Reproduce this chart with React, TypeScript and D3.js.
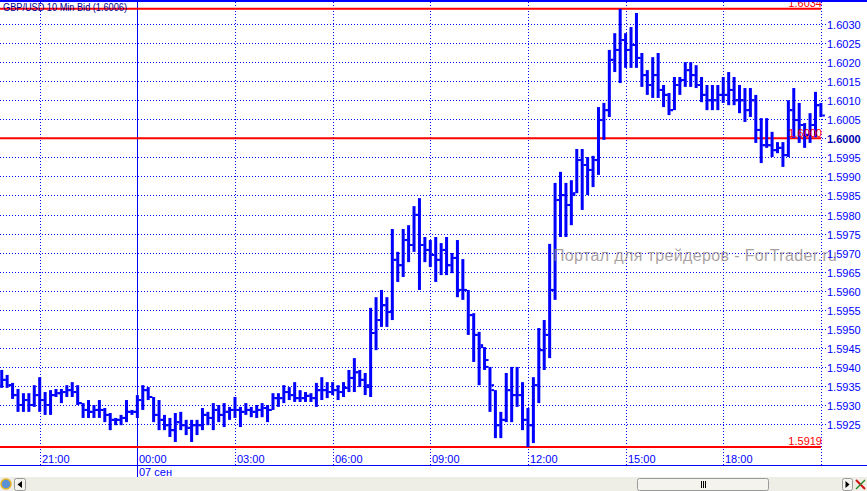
import React from "react";
import * as d3 from "d3";

// ---- data (GBP/USD 10 Min Bid), first bar at 19:50 on 06 Sep ----
const startTime = new Date(2009, 8, 6, 19, 50);
const barMinutes = 10;

const highs = [
  1.59392, 1.59379, 1.59358, 1.59342, 1.59331, 1.59331, 1.59352, 1.59373, 1.59334, 1.59339,
  1.59342, 1.59342, 1.59352, 1.5936, 1.59352, 1.59305, 1.59313, 1.593, 1.59313, 1.59292,
  1.59279, 1.59266, 1.59274, 1.59313, 1.59287, 1.59326, 1.59352, 1.59347, 1.59321, 1.59313,
  1.59274, 1.59266, 1.59279, 1.59282, 1.59261, 1.59261, 1.59261, 1.59292, 1.59282, 1.59305,
  1.593, 1.59305, 1.59295, 1.59321, 1.59295, 1.59305, 1.59295, 1.593, 1.59305, 1.593,
  1.59331, 1.59331, 1.59352, 1.59347, 1.5936, 1.59339, 1.59334, 1.59331, 1.59358, 1.59373,
  1.5936, 1.5936, 1.59352, 1.5936, 1.59392, 1.59423, 1.59392, 1.59384, 1.59555, 1.59583,
  1.59602, 1.59583, 1.59762, 1.59702, 1.59762, 1.59772, 1.59822, 1.59843, 1.59741, 1.59733,
  1.59741, 1.59725, 1.59741, 1.59699, 1.59733, 1.59683, 1.59602, 1.59541, 1.59492, 1.59452,
  1.594, 1.59339, 1.59282, 1.59384, 1.594, 1.594, 1.5936, 1.59292, 1.59373, 1.59502,
  1.59523, 1.59723, 1.59883, 1.59912, 1.59883, 1.5989, 1.59972, 1.59972, 1.59951, 1.59954,
  1.60082, 1.60093, 1.60232, 1.60276, 1.6034, 1.60276, 1.60292, 1.60329, 1.60224, 1.60179,
  1.60213, 1.60224, 1.6014, 1.60119, 1.60161, 1.60161, 1.602, 1.602, 1.60192, 1.60161,
  1.6014, 1.6014, 1.6014, 1.60161, 1.60174, 1.60161, 1.6014, 1.60132, 1.60132, 1.60114,
  1.60053, 1.60053, 1.60017, 1.5999, 1.5999, 1.601, 1.60132, 1.60093, 1.6004, 1.60066,
  1.60122, 1.60093,
];

const lows = [
  1.59345, 1.59345, 1.59316, 1.59282, 1.59282, 1.59282, 1.59295, 1.59282, 1.59274, 1.59274,
  1.59321, 1.59305, 1.59321, 1.59321, 1.593, 1.59266, 1.59266, 1.59266, 1.59266, 1.59255,
  1.59234, 1.59247, 1.59247, 1.59255, 1.59274, 1.59266, 1.59287, 1.59313, 1.59255, 1.59234,
  1.59234, 1.59216, 1.59203, 1.59234, 1.59221, 1.59203, 1.59221, 1.59234, 1.59247, 1.59234,
  1.59255, 1.59242, 1.59261, 1.59266, 1.59242, 1.59274, 1.59268, 1.59266, 1.59268, 1.59255,
  1.59287, 1.59295, 1.59305, 1.59313, 1.59308, 1.59308, 1.59308, 1.59308, 1.59295, 1.59313,
  1.59318, 1.59326, 1.59313, 1.59321, 1.59334, 1.59334, 1.59347, 1.59326, 1.59321, 1.59444,
  1.59505, 1.59505, 1.59523, 1.59623, 1.59636, 1.59675, 1.59702, 1.59602, 1.59675, 1.59662,
  1.59623, 1.59641, 1.59641, 1.59646, 1.59583, 1.59576, 1.59484, 1.59413, 1.59352, 1.59392,
  1.59282, 1.59213, 1.59213, 1.59255, 1.59255, 1.59295, 1.59234, 1.5919, 1.592, 1.59305,
  1.59392, 1.59423, 1.59576, 1.59741, 1.59741, 1.59772, 1.59856, 1.59812, 1.59851, 1.59872,
  1.59904, 1.59996, 1.60056, 1.60174, 1.60145, 1.60185, 1.60185, 1.60185, 1.60135, 1.60114,
  1.60106, 1.60106, 1.60082, 1.60061, 1.60074, 1.60114, 1.60135, 1.60135, 1.60132, 1.60095,
  1.60074, 1.60074, 1.60074, 1.60093, 1.60087, 1.60087, 1.60066, 1.60043, 1.60056, 1.59988,
  1.59935, 1.59975, 1.59951, 1.59961, 1.59925, 1.59951, 1.60001, 1.59988, 1.59975, 1.59988,
  1.60003, 1.60056,
];

const opens = [
  1.59352, 1.59366, 1.59352, 1.59326, 1.593, 1.59313, 1.593, 1.59326, 1.59313, 1.593,
  1.59326, 1.59331, 1.59334, 1.59339, 1.59334, 1.59305, 1.59287, 1.59282, 1.59287, 1.59287,
  1.59274, 1.59261, 1.59261, 1.59266, 1.59282, 1.59282, 1.59313, 1.59339, 1.59321, 1.59274,
  1.59261, 1.59247, 1.59234, 1.59255, 1.59247, 1.5924, 1.59247, 1.59247, 1.59274, 1.59266,
  1.59287, 1.59274, 1.59282, 1.59287, 1.59287, 1.59282, 1.59287, 1.59282, 1.59287, 1.59292,
  1.59287, 1.59318, 1.59318, 1.59334, 1.59326, 1.59318, 1.59318, 1.59324, 1.59318, 1.59339,
  1.59339, 1.59334, 1.59339, 1.59334, 1.59345, 1.59371, 1.59386, 1.59366, 1.59347, 1.59489,
  1.59523, 1.59562, 1.59544, 1.59681, 1.59667, 1.59733, 1.5972, 1.59799, 1.5972, 1.59707,
  1.59694, 1.59681, 1.59707, 1.59667, 1.59686, 1.59602, 1.59602, 1.59536, 1.59484, 1.59452,
  1.594, 1.59339, 1.59247, 1.59261, 1.59339, 1.59326, 1.59326, 1.59261, 1.59247, 1.59352,
  1.59444, 1.59484, 1.59602, 1.59838, 1.59851, 1.59825, 1.59856, 1.59943, 1.5993, 1.59917,
  1.59943, 1.60048, 1.60074, 1.60206, 1.60232, 1.60258, 1.60232, 1.60245, 1.60211, 1.60166,
  1.6014, 1.60166, 1.60127, 1.60114, 1.60074, 1.6014, 1.60153, 1.60179, 1.60166, 1.6014,
  1.60114, 1.601, 1.601, 1.60114, 1.60114, 1.60127, 1.601, 1.601, 1.60074, 1.601,
  1.60022, 1.59982, 1.59982, 1.59969, 1.59975, 1.59956, 1.60074, 1.60048, 1.60035, 1.60009,
  1.60035, 1.60087,
];

const closes = [
  1.59366, 1.59352, 1.59326, 1.593, 1.59313, 1.593, 1.59326, 1.59313, 1.593, 1.59326,
  1.59331, 1.59334, 1.59339, 1.59334, 1.59305, 1.59287, 1.59282, 1.59287, 1.59287, 1.59274,
  1.59261, 1.59261, 1.59266, 1.59282, 1.59282, 1.59313, 1.59339, 1.59321, 1.59274, 1.59261,
  1.59247, 1.59234, 1.59255, 1.59247, 1.5924, 1.59247, 1.59247, 1.59274, 1.59266, 1.59287,
  1.59274, 1.59282, 1.59287, 1.59287, 1.59282, 1.59287, 1.59282, 1.59287, 1.59292, 1.59287,
  1.59318, 1.59318, 1.59334, 1.59326, 1.59318, 1.59318, 1.59324, 1.59318, 1.59339, 1.59339,
  1.59334, 1.59339, 1.59334, 1.59345, 1.59371, 1.59386, 1.59366, 1.59352, 1.59489, 1.59523,
  1.59562, 1.59544, 1.59681, 1.59667, 1.59733, 1.5972, 1.59799, 1.5972, 1.59707, 1.59694,
  1.59681, 1.59707, 1.59667, 1.59686, 1.59602, 1.59602, 1.59536, 1.59484, 1.59457, 1.59418,
  1.59352, 1.59247, 1.59261, 1.59339, 1.59326, 1.59326, 1.59261, 1.59247, 1.59352, 1.59444,
  1.59484, 1.59602, 1.59838, 1.59851, 1.59825, 1.59851, 1.59943, 1.5993, 1.59917, 1.59943,
  1.60048, 1.60074, 1.60206, 1.60232, 1.60258, 1.60232, 1.60245, 1.60211, 1.60166, 1.6014,
  1.60166, 1.60127, 1.60114, 1.60074, 1.6014, 1.60153, 1.60179, 1.60166, 1.6014, 1.60114,
  1.601, 1.601, 1.60114, 1.60114, 1.60127, 1.601, 1.601, 1.60074, 1.601, 1.60022,
  1.59982, 1.59982, 1.59969, 1.59975, 1.59956, 1.60074, 1.60048, 1.60035, 1.60009, 1.60035,
  1.60087, 1.6006,
];

const priceTicks = [
  1.5925, 1.593, 1.5935, 1.594, 1.5945, 1.595, 1.5955, 1.596, 1.5965, 1.597, 1.5975,
  1.598, 1.5985, 1.599, 1.5995, 1.6, 1.6005, 1.601, 1.6015, 1.602, 1.6025, 1.603,
];
const levelLines = [1.6034, 1.6, 1.5919];
const titleText = "GBP/USD 10 Min Bid (1.6006)";
const dateLabel = "07 сен";
const watermark = "Портал для трейдеров - ForTrader.ru";

const W = 867;
const H = 491;
const plotRight = 821;
const axisY = 465.5;
const BLUE = "#0000ff";
const RED = "#ff0000";
const FONT = "'Liberation Sans', Arial, sans-serif";

export default function App() {
  const times = highs.map((_, i) => new Date(startTime.getTime() + i * barMinutes * 60000));
  const bars = times.map((t, i) => ({ t, o: opens[i], h: highs[i], l: lows[i], c: closes[i] }));

  const x = d3.scaleTime().domain([times[0], times[times.length - 1]]).range([1.725, 820.9]);
  const y = d3.scaleLinear().domain([1.5919, 1.6034]).range([446.9, 8.8]);

  const timeTicks = x.ticks(d3.timeHour.every(3)!).filter((t) => x(t) > 5 && x(t) < plotRight - 5);
  const fmt = d3.timeFormat("%H:%M");

  return (
    <svg width={W} height={H} style={{ position: "absolute", left: 0, top: 0, display: "block" }}>
      <rect x={0} y={0} width={W} height={H} fill="#ffffff" />

      {/* horizontal dotted grid */}
      {priceTicks.map((p) => (
        <line key={"g" + p} x1={0} x2={826} y1={Math.round(y(p)) + 0.5} y2={Math.round(y(p)) + 0.5}
          stroke={BLUE} strokeWidth={1} strokeDasharray="1,2" />
      ))}

      {/* vertical dotted grid */}
      {timeTicks.map((t) => {
        const isDay = t.getHours() === 0;
        const xx = Math.round(x(t)) + 0.5;
        return isDay ? (
          <line key={"v" + +t} x1={xx} x2={xx} y1={0} y2={477} stroke={BLUE} strokeWidth={1} />
        ) : (
          <line key={"v" + +t} x1={xx} x2={xx} y1={2} y2={axisY} stroke={BLUE} strokeWidth={1} strokeDasharray="1,2" />
        );
      })}

      {/* price axis dotted line */}
      <line x1={plotRight + 0.5} x2={plotRight + 0.5} y1={2} y2={axisY} stroke={BLUE} strokeWidth={1} strokeDasharray="1,2" />

      {/* red level lines */}
      {levelLines.map((p) => (
        <line key={"r" + p} x1={0} x2={plotRight} y1={y(p)} y2={y(p)} stroke={RED} strokeWidth={2} />
      ))}

      {/* OHLC bars */}
      <g fill={BLUE}>
        {bars.map((b, i) => {
          const cx = x(b.t);
          const yh = y(b.h);
          const yl = y(b.l);
          return (
            <g key={i}>
              <rect x={cx - 1.5} y={yh} width={3} height={Math.max(1, yl - yh)} />
              <rect x={cx - 4} y={y(b.o) - 1} width={2.6} height={2} />
              <rect x={cx + 1.4} y={y(b.c) - 1} width={2.6} height={2} />
            </g>
          );
        })}
      </g>

      {/* red level labels */}
      {levelLines.map((p) => (
        <text key={"rl" + p} x={822} y={y(p) - 1.5} textAnchor="end" fontFamily={FONT} fontSize={11} fill={RED}>
          {p.toFixed(4)}
        </text>
      ))}

      {/* watermark */}
      <text x={553} y={261} fontFamily={FONT} fontSize={16} fill="#8c8080" fillOpacity={0.75}
        textLength={284} lengthAdjust="spacing">
        {watermark}
      </text>

      {/* price labels */}
      {priceTicks.map((p) => (
        <text key={"pl" + p} x={827} y={Math.round(y(p)) + 4.5} fontFamily={FONT} fontSize={11}
          fontWeight={p === 1.6 ? "bold" : "normal"} fill={p === 1.6 ? "#0000b0" : BLUE}>
          {p.toFixed(4)}
        </text>
      ))}

      {/* top border */}
      <rect x={0} y={0} width={W} height={2} fill={BLUE} />

      {/* title */}
      <text x={3} y={10.5} fontFamily={FONT} fontSize={10} fill="#000090" textLength={124} lengthAdjust="spacingAndGlyphs">
        {titleText}
      </text>

      {/* time axis */}
      <line x1={0} x2={W} y1={axisY} y2={axisY} stroke={BLUE} strokeWidth={1} />
      {timeTicks.map((t) => (
        <text key={"tl" + +t} x={Math.round(x(t)) + 2} y={463} fontFamily={FONT} fontSize={11} fill={BLUE}>
          {fmt(t)}
        </text>
      ))}
      {timeTicks.filter((t) => t.getHours() === 0).map((t) => (
        <text key={"dl" + +t} x={Math.round(x(t)) + 2} y={476} fontFamily={FONT} fontSize={11} fill={BLUE}>
          {dateLabel}
        </text>
      ))}

      {/* scroll bar strip */}
      <rect x={0} y={477} width={W} height={14} fill="#eeede6" />
      <circle cx={6} cy={484} r={5} fill="#5b8fd6" stroke="#e6b422" strokeWidth={1.5} />
      <rect x={14.5} y={478.5} width={11} height={12} rx={2} fill="#f4f3ee" stroke="#9a9a9a" />
      <path d="M22,481 L17.5,484.5 L22,488 Z" fill="#000" />
      <rect x={637.5} y={478.5} width={131} height={12} rx={2} fill="#f4f3ee" stroke="#9a9a9a" />
      <line x1={701.5} x2={701.5} y1={481} y2={488} stroke="#000" />
      <line x1={703.5} x2={703.5} y1={481} y2={488} stroke="#000" />
      <line x1={705.5} x2={705.5} y1={481} y2={488} stroke="#000" />
      <rect x={842.5} y={478.5} width={10} height={12} rx={2} fill="#f4f3ee" stroke="#9a9a9a" />
      <path d="M845.5,481 L849.5,484.5 L845.5,488 Z" fill="#000" />
      <line x1={856} x2={865} y1={480} y2={489} stroke="#d01010" strokeWidth={2} />
      <line x1={865} x2={856} y1={480} y2={489} stroke="#2a8a2a" strokeWidth={1.5} />
    </svg>
  );
}
